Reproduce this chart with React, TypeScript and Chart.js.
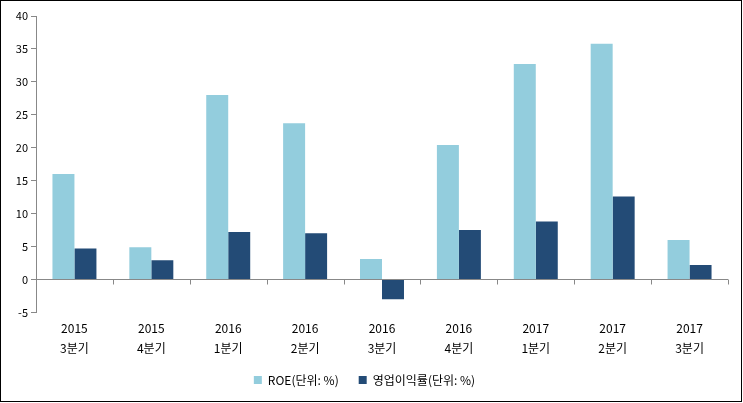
import React, { useEffect, useRef } from "react";
import { Chart, registerables } from "chart.js";

Chart.register(...registerables);

const categories: string[][] = [
  ["2015", "3분기"],
  ["2015", "4분기"],
  ["2016", "1분기"],
  ["2016", "2분기"],
  ["2016", "3분기"],
  ["2016", "4분기"],
  ["2017", "1분기"],
  ["2017", "2분기"],
  ["2017", "3분기"],
];
const roe: number[] = [16, 4.9, 28, 23.7, 3.1, 20.4, 32.7, 35.8, 6];
const opMargin: number[] = [4.7, 2.9, 7.2, 7.0, -3.0, 7.5, 8.8, 12.6, 2.2];
const seriesNames: string[] = ["ROE(단위: %)", "영업이익률(단위: %)"];
const yMin = -5;
const yMax = 40;
const yStep = 5;

const FONT = '"Noto Sans CJK KR", "Noto Sans", sans-serif';

const zeroLinePlugin = {
  id: "zeroLine",
  afterDatasetsDraw(chart: any) {
    const y = chart.scales.y;
    const ctx = chart.ctx;
    const y0 = Math.round(y.getPixelForValue(0)) + 0.5;
    ctx.save();
    ctx.strokeStyle = "#888888";
    ctx.lineWidth = 1;
    ctx.beginPath();
    ctx.moveTo(chart.chartArea.left, y0);
    ctx.lineTo(chart.chartArea.right, y0);
    const n = categories.length;
    const w = (chart.chartArea.right - chart.chartArea.left) / n;
    for (let i = 0; i <= n; i++) {
      const px = Math.round(chart.chartArea.left + i * w) + 0.5;
      ctx.moveTo(px, y0);
      ctx.lineTo(px, y0 + 5);
    }
    ctx.stroke();
    ctx.restore();
  },
};

const legendFitPlugin = {
  id: "legendFit",
  beforeInit(chart: any) {
    const lg = chart.legend;
    if (lg) {
      const origFit = lg.fit;
      lg.fit = function () {
        origFit.bind(lg)();
        this.height -= 1;
      };
    }
  },
};

export default function App() {
  const ref = useRef<HTMLCanvasElement | null>(null);
  useEffect(() => {
    document.body.style.margin = "0";
    const chart = new Chart(ref.current as HTMLCanvasElement, {
      type: "bar",
      data: {
        labels: categories,
        datasets: [
          {
            label: seriesNames[0],
            data: roe,
            backgroundColor: "#93CDDD",
            categoryPercentage: 0.572,
            barPercentage: 1,
          },
          {
            label: seriesNames[1],
            data: opMargin,
            backgroundColor: "#234B76",
            categoryPercentage: 0.572,
            barPercentage: 1,
          },
        ],
      },
      options: {
        animation: false,
        responsive: false,
        layout: { padding: { top: 15, right: 13, left: 0, bottom: 6 } },
        plugins: {
          tooltip: { enabled: false },
          legend: {
            position: "bottom",
            labels: {
              boxWidth: 8,
              boxHeight: 8,
              padding: 20,
              color: "#000",
              font: { family: FONT, size: 12 },
            },
          },
        },
        scales: {
          x: {
            grid: { display: false, drawTicks: false },
            border: { display: false },
            ticks: {
              color: "#000",
              font: { family: FONT, size: 12, lineHeight: 1.65 },
              padding: 6,
              maxRotation: 0,
              autoSkip: false,
            },
            afterFit(scale: any) {
              scale.height -= 10;
            },
          },
          y: {
            min: yMin,
            max: yMax,
            grid: {
              drawOnChartArea: false,
              drawTicks: true,
              tickLength: 5,
              color: "#888888",
            },
            border: { display: true, color: "#888888" },
            ticks: {
              stepSize: yStep,
              color: "#000",
              font: { family: FONT, size: 11 },
              padding: 3,
            },
            afterFit(scale: any) {
              scale.width = 35;
            },
          },
        },
      },
      plugins: [zeroLinePlugin, legendFitPlugin],
    });
    return () => chart.destroy();
  }, []);
  return (
    <div
      style={{
        position: "absolute",
        left: 0,
        top: 0,
        width: 742,
        height: 402,
        border: "1px solid #000",
        boxSizing: "border-box",
        background: "#fff",
      }}
    >
      <canvas ref={ref} width={740} height={400} style={{ display: "block" }} />
    </div>
  );
}
